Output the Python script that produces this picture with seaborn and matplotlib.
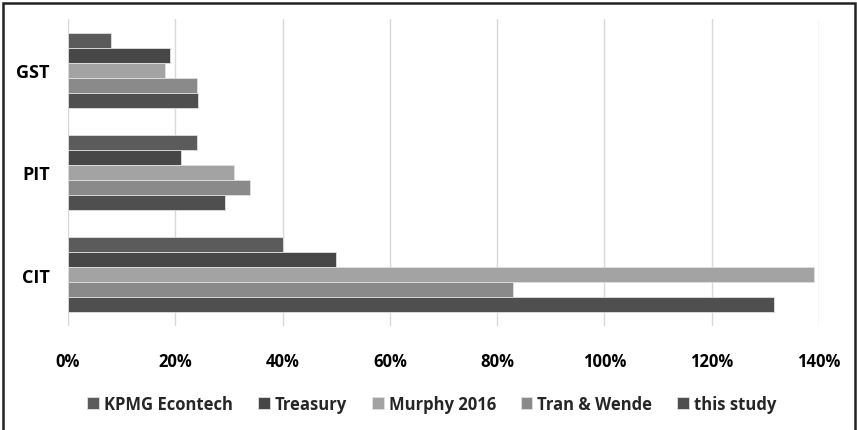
import pandas as pd
import matplotlib.pyplot as plt
import seaborn as sns
from matplotlib.patches import Rectangle
from matplotlib.ticker import FuncFormatter

# 데이터
taxes = ['GST', 'PIT', 'CIT']
studies = ['KPMG Econtech', 'Treasury', 'Murphy 2016', 'Tran & Wende', 'this study']
kpmg = [8, 24, 40]
treasury = [19, 21, 50]
murphy = [18, 31, 139]
tran = [24, 34, 83]
this_study = [24.2, 29.3, 131.7]
colors = ['#5b5b5b', '#474747', '#a3a3a3', '#8a8a8a', '#4f4f4f']

# long format 으로 변환
df = pd.DataFrame({'tax': taxes * 5,
                   'study': [s for s in studies for _ in taxes],
                   'value': kpmg + treasury + murphy + tran + this_study})

sns.set_style('white')
plt.rcParams['font.family'] = ['Open Sans', 'DejaVu Sans']
plt.rcParams['font.weight'] = 'bold'

fig = plt.figure(figsize=(8.57, 4.31), dpi=100)
ax = fig.add_axes([68/857, 1 - 327/431, (819 - 68)/857, (327 - 20)/431])

sns.barplot(data=df, y='tax', x='value', hue='study', order=taxes, hue_order=studies,
            palette=colors, orient='h', width=0.73, saturation=1,
            edgecolor='#e0e0e0', linewidth=0.6, ax=ax)

ax.set_xlim(0, 140)
ax.set_ylim(2.5, -0.5)
ax.set_xticks(range(0, 141, 20))
ax.xaxis.set_major_formatter(FuncFormatter(lambda v, p: f'{v:.0f}%'))
ax.grid(axis='x', color='#d9d9d9', linewidth=1)
ax.set_axisbelow(True)
for s in ax.spines.values():
    s.set_visible(False)
ax.tick_params(axis='x', length=0, pad=19, labelsize=12, labelcolor='black')
ax.tick_params(axis='y', length=0, pad=13, labelsize=13, labelcolor='black')
for t in ax.get_xticklabels() + ax.get_yticklabels():
    t.set_fontweight('bold')
ax.set_xlabel('')
ax.set_ylabel('')

# 범례
handles, labels = ax.get_legend_handles_labels()
ax.legend_.remove()
fig.legend(handles, labels, loc='center', bbox_to_anchor=(0.504, 0.06), ncol=5,
           frameon=False, handlelength=0.7, handleheight=0.7, handletextpad=0.3,
           columnspacing=1.5, prop={'weight': 'bold', 'size': 12})

# 테두리
fig.add_artist(Rectangle((3/857, -0.05), 852/857, 1.05 - 4/431, transform=fig.transFigure,
                         fill=False, edgecolor='#222222', linewidth=1.8))

fig.savefig('out.png', dpi=100)
